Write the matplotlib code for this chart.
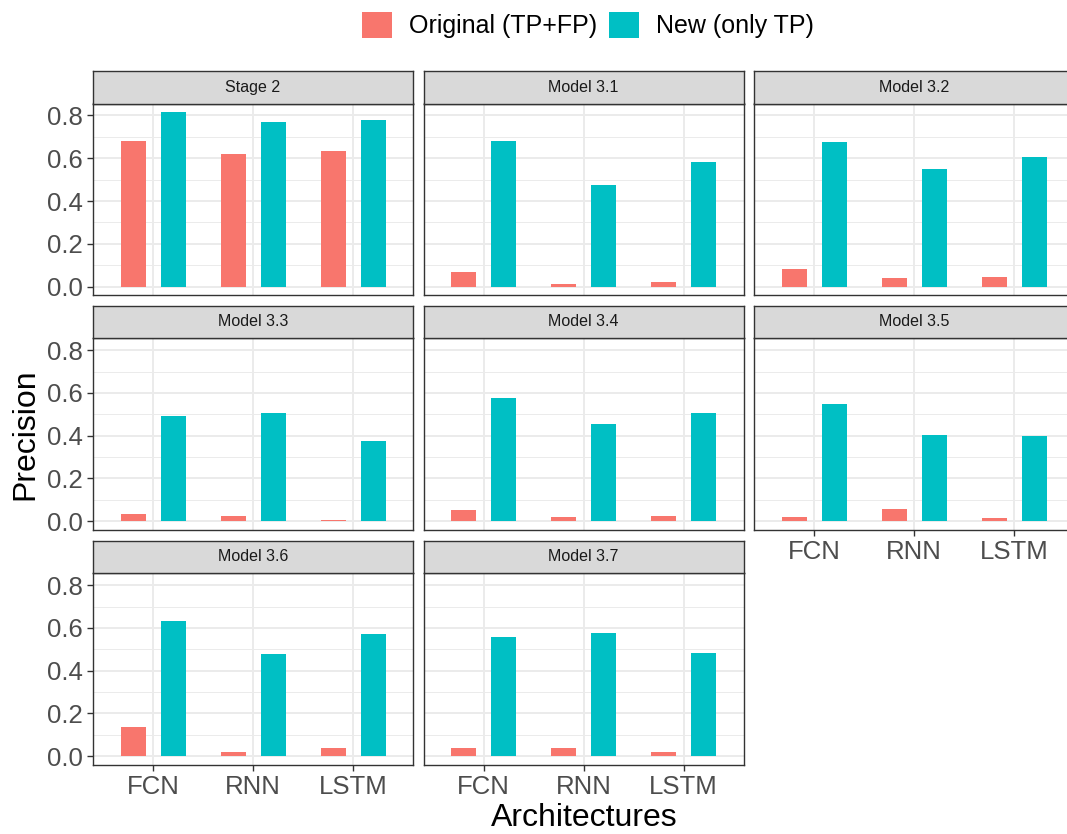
import matplotlib
matplotlib.use("Agg")
import matplotlib.pyplot as plt
from matplotlib.patches import Patch

plt.rcParams['font.family'] = ['Liberation Sans', 'DejaVu Sans']

panels = ["Stage 2", "Model 3.1", "Model 3.2", "Model 3.3",
          "Model 3.4", "Model 3.5", "Model 3.6", "Model 3.7"]
architectures = ["FCN", "RNN", "LSTM"]
original = [[0.682, 0.619, 0.633],
            [0.070, 0.012, 0.020],
            [0.082, 0.039, 0.045],
            [0.033, 0.026, 0.008],
            [0.051, 0.019, 0.026],
            [0.020, 0.059, 0.014],
            [0.138, 0.020, 0.038],
            [0.038, 0.038, 0.020]]
new = [[0.815, 0.771, 0.777],
       [0.682, 0.474, 0.581],
       [0.677, 0.550, 0.608],
       [0.493, 0.505, 0.374],
       [0.575, 0.454, 0.505],
       [0.550, 0.405, 0.398],
       [0.634, 0.477, 0.571],
       [0.558, 0.577, 0.483]]
series_labels = ["Original (TP+FP)", "New (only TP)"]
colors = ["#F8766D", "#00BFC4"]
yticks = [0.0, 0.2, 0.4, 0.6, 0.8]
minor_yticks = [0.1, 0.3, 0.5, 0.7]

W, H = 1067, 834
fig = plt.figure(figsize=(W / 100, H / 100), dpi=100)

col_left = [93, 423.5, 754]
panel_w = 320
strip_top = [71, 305.7, 540.7]
strip_h = 32.5
panel_bot = [295.3, 530, 765]

ymax = max(max(r) for r in new) * 1.05
ylim = (-0.05 * max(max(r) for r in new), ymax)

def frac(x, y, w, h):
    return [x / W, 1 - (y + h) / H, w / W, h / H]

for i, name in enumerate(panels):
    r, c = divmod(i, 3)
    top = strip_top[r] + strip_h
    ph = panel_bot[r] - top
    ax = fig.add_axes(frac(col_left[c], top, panel_w, ph))
    x = list(range(1, len(architectures) + 1))
    ax.bar([v - 0.2 for v in x], original[i], width=0.25, color=colors[0], zorder=3, linewidth=0)
    ax.bar([v + 0.2 for v in x], new[i], width=0.25, color=colors[1], zorder=3, linewidth=0)
    ax.set_xlim(0.4, 3.6)
    ax.set_ylim(*ylim)
    ax.set_yticks(yticks)
    ax.set_yticks(minor_yticks, minor=True)
    ax.set_xticks(x)
    ax.grid(True, which='major', color='#EBEBEB', linewidth=1.4, zorder=0)
    ax.grid(True, which='minor', axis='y', color='#EBEBEB', linewidth=0.7, zorder=0)
    ax.set_axisbelow(True)
    for s in ax.spines.values():
        s.set_color('#333333')
        s.set_linewidth(1.0)
    ax.tick_params(which='minor', length=0)
    ax.tick_params(which='major', color='#333333', length=4, width=1.0,
                   labelsize=18.5, labelcolor='#4D4D4D')
    ax.tick_params(axis='y', pad=3.5)
    ax.tick_params(axis='x', pad=3)
    if c == 0:
        ax.set_yticklabels([f"{t:.1f}" for t in yticks])
    else:
        ax.tick_params(axis='y', length=0, labelleft=False)
    show_x = (i + 3 >= len(panels))
    if show_x:
        ax.set_xticklabels(architectures)
    else:
        ax.tick_params(axis='x', length=0, labelbottom=False)
    # strip
    sax = fig.add_axes(frac(col_left[c], strip_top[r], panel_w, strip_h))
    sax.set_facecolor('#D9D9D9')
    sax.set_xticks([])
    sax.set_yticks([])
    for s in sax.spines.values():
        s.set_color('#333333')
        s.set_linewidth(1.0)
    sax.text(0.5, 0.5, name, ha='center', va='center', fontsize=11.5,
             color='#1A1A1A', transform=sax.transAxes)

fig.text(25 / W, 1 - 434 / H, "Precision", rotation=90, ha='center', va='center',
         fontsize=23, color='black')
fig.text(584 / W, 1 - 818 / H, "Architectures", ha='center', va='center',
         fontsize=23, color='black')

handles = [Patch(facecolor=colors[0], edgecolor='none'),
           Patch(facecolor=colors[1], edgecolor='none')]
fig.legend(handles, series_labels, loc='center', bbox_to_anchor=(588 / W, 1 - 25 / H),
           ncol=2, frameon=False, fontsize=18, handlelength=1.2, handleheight=1.2,
           handletextpad=0.7, columnspacing=0.45, borderpad=0)

fig.savefig("out.png", dpi=100)
